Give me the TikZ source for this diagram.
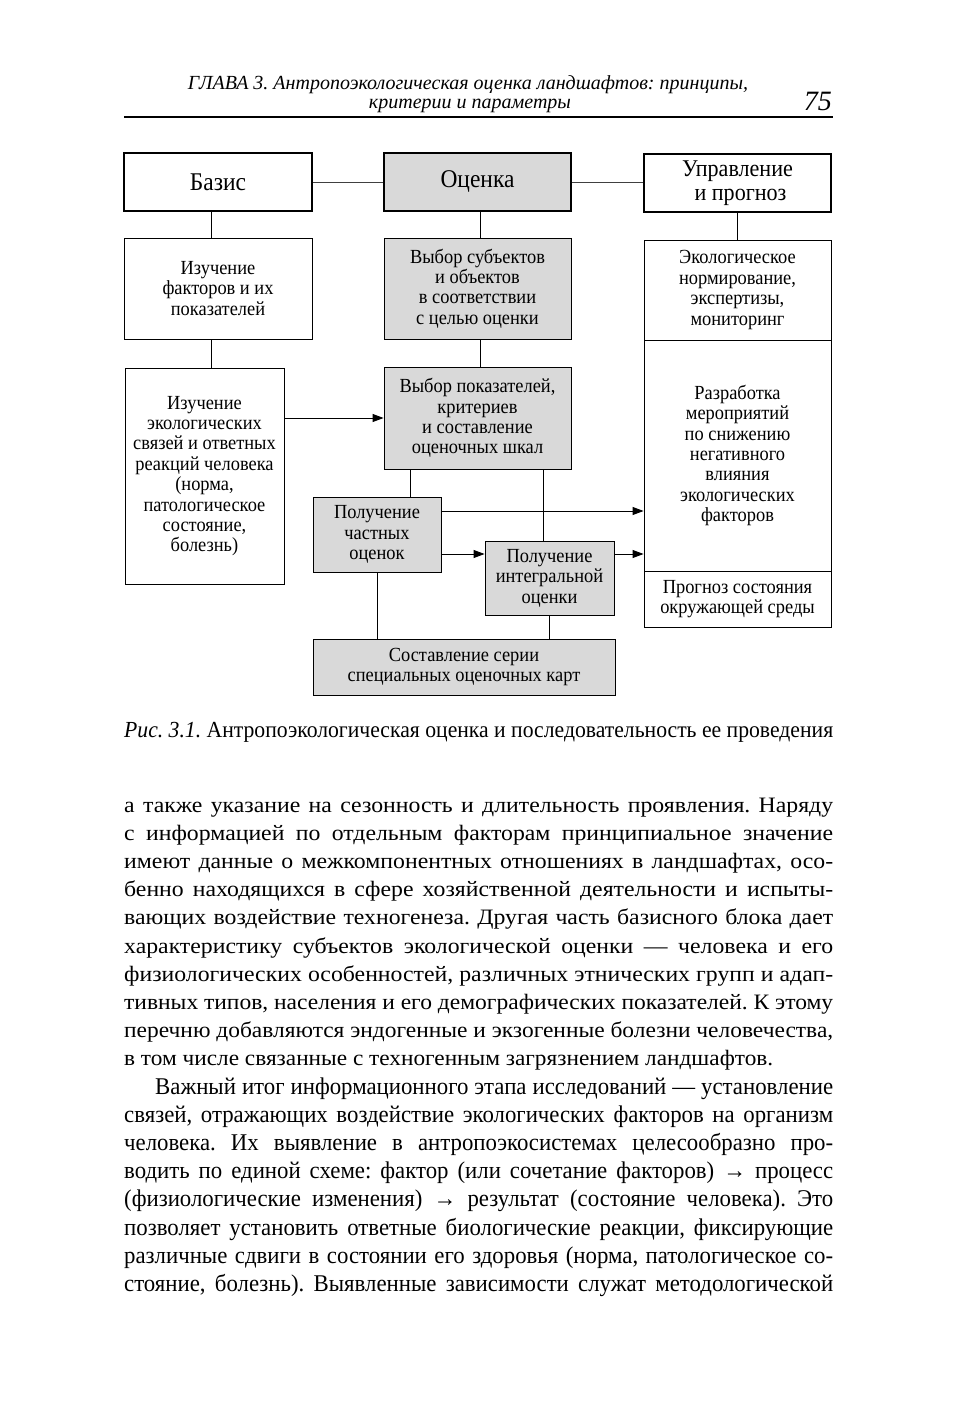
\documentclass[tikz,border=0pt]{standalone}
\usepackage{fontspec}
\usepackage{graphicx}
\setmainfont{Liberation Serif}
\newfontfamily\diagfont[FakeStretch=0.92]{Liberation Serif}
\newfontfamily\wideserif[FakeStretch=1.08]{Liberation Serif}
\newfontfamily\narrowserif[FakeStretch=0.95]{Liberation Serif}
\usetikzlibrary{arrows.meta}
\frenchspacing
\newsavebox\jbox
\newcommand\jline[2]{\sbox\jbox{#2}\ifdim\wd\jbox>#1\relax\resizebox{#1}{\height}{\usebox\jbox}\else\makebox[#1][s]{#2}\fi}
\begin{document}
\begin{tikzpicture}[x=1pt,y=-1pt,
 box/.style={draw, line width=0.9pt, inner sep=0pt, align=center, font=\diagfont\fontsize{20}{20.4}\selectfont},
 headbox/.style={draw, line width=2.2pt, inner sep=0pt, align=center, font=\diagfont\fontsize{25.5}{24}\selectfont},
 shade/.style={fill=black!15},
 conn/.style={line width=0.9pt},
 hconn/.style={line width=1pt, black!75},
 arr/.style={line width=0.9pt, -{Triangle[length=11pt,width=8pt]}},
 bodyA/.style={anchor=base west, inner sep=0pt, font=\wideserif\fontsize{22}{28}\selectfont},
 bodyB/.style={anchor=base west, inner sep=0pt, font=\narrowserif\fontsize{24}{28}\selectfont},
]
\fill[white] (0,0) rectangle (975,1418);
\useasboundingbox (0,0) rectangle (975,1418);

% running head
\node[anchor=base, inner sep=0pt, font=\itshape\fontsize{20}{20}\selectfont] (h1) at (468,90) {ГЛАВА 3. Антропоэкологическая оценка ландшафтов: принципы,};
\node[anchor=base, inner sep=0pt, font=\itshape\fontsize{20}{20}\selectfont] (h2) at (470,109) {критерии и параметры};
\node[anchor=base east, inner sep=0pt, font=\itshape\fontsize{28}{28}\selectfont] (pg) at (832,111) {75};
\draw[line width=1.3pt] (124,117) -- (833,117);

% header boxes
\node[headbox, minimum width=188pt, minimum height=58pt] (basis) at (218,182) {Базис};
\node[headbox, shade, minimum width=187pt, minimum height=58pt] (ocenka) at (477.5,182) {Оценка};
\node[headbox, minimum width=187pt, minimum height=58pt, font=\diagfont\fontsize{24}{23.5}\selectfont] (upr) at (737.5,183) {Управление\\[0.5pt]\hspace*{6pt}и прогноз};

% second row
\node[box, minimum width=188pt, minimum height=101pt] (izf) at (218,288.5) {Изучение\\факторов и их\\показателей};
\node[box, shade, minimum width=187pt, minimum height=101pt] (vsub) at (477.5,288.5) {Выбор субъектов\\и объектов\\в соответствии\\с целью оценки};
\node[box, minimum width=187pt, minimum height=100pt] (eko) at (737.5,290) {Экологическое\\нормирование,\\экспертизы,\\мониторинг};
\node[box, minimum width=187pt, minimum height=231pt] (razr) at (737.5,455.5) {Разработка\\мероприятий\\по снижению\\негативного\\влияния\\экологических\\факторов};
\node[box, minimum width=187pt, minimum height=56pt] (progn) at (737.5,599) {Прогноз состояния\\окружающей среды};

\node[box, minimum width=159pt, minimum height=216pt] (izs) at (204.5,476) {Изучение\\экологических\\связей и ответных\\реакций человека\\(норма,\\патологическое\\состояние,\\болезнь)};
\node[box, shade, minimum width=187pt, minimum height=102pt] (vpok) at (477.5,418) {Выбор показателей,\\критериев\\и составление\\оценочных шкал};
\node[box, shade, minimum width=128pt, minimum height=75pt] (pch) at (377,534.5) {Получение\\частных\\оценок};
\node[box, shade, minimum width=129pt, minimum height=74pt] (pint) at (549.5,578) {Получение\\интегральной\\оценки};
\node[box, shade, minimum width=302pt, minimum height=56pt] (sost) at (464,667) {Составление серии\\специальных оценочных карт};

% helper coordinates
\coordinate (xa) at (211,0);
\coordinate (xb) at (480,0);
\coordinate (xc) at (410,0);
\coordinate (xd) at (543,0);
\coordinate (ya) at (0,511);
\coordinate (yb) at (0,554);

% connectors
\draw[hconn] (basis.east) -- (ocenka.west);
\draw[hconn] (ocenka.east) -- (ocenka.east -| upr.west);
\draw[conn] (basis.south -| xa) -- (izf.north -| xa);
\draw[conn] (izf.south -| xa) -- (izs.north -| xa);
\draw[conn] (ocenka.south -| xb) -- (vsub.north -| xb);
\draw[conn] (vsub.south -| xb) -- (vpok.north -| xb);
\draw[conn] (upr.south) -- (eko.north);
\draw[arr] (vpok.west -| izs.east) -- (vpok.west);
\draw[conn] (vpok.south -| xc) -- (pch.north -| xc);
\draw[conn] (vpok.south -| xd) -- (pint.north -| xd);
\draw[arr] (pch.east |- ya) -- (razr.west |- ya);
\draw[arr] (pch.east |- yb) -- (pint.west |- yb);
\draw[arr] (pint.east |- yb) -- (razr.west |- yb);
\draw[conn] (pch.south) -- (pch.south |- sost.north);
\draw[conn] (pint.south) -- (pint.south |- sost.north);

% caption
\node[anchor=base west, inner sep=0pt, font=\narrowserif\fontsize{23}{24}\selectfont] (cap) at (124,737) {\jline{709pt}{\textit{Рис. 3.1.} Антропоэкологическая оценка и последовательность ее проведения}};

% body text
\node[bodyA] (b1) at (124,812) {\jline{709pt}{а также указание на сезонность и длительность проявления. Наряду}};
\node[bodyA] (b2) at (124,840.2) {\jline{709pt}{с информацией по отдельным факторам принципиальное значение}};
\node[bodyA] (b3) at (124,868.4) {\jline{709pt}{имеют данные о межкомпонентных отношениях в ландшафтах, осо-}};
\node[bodyA] (b4) at (124,896.6) {\jline{709pt}{бенно находящихся в сфере хозяйственной деятельности и испыты-}};
\node[bodyA] (b5) at (124,924.8) {\jline{709pt}{вающих воздействие техногенеза. Другая часть базисного блока дает}};
\node[bodyA] (b6) at (124,953) {\jline{709pt}{характеристику субъектов экологической оценки — человека и его}};
\node[bodyA] (b7) at (124,981.2) {\jline{709pt}{физиологических особенностей, различных этнических групп и адап-}};
\node[bodyA] (b8) at (124,1009.4) {\jline{709pt}{тивных типов, населения и его демографических показателей. К этому}};
\node[bodyA] (b9) at (124,1037.6) {\jline{709pt}{перечню добавляются эндогенные и экзогенные болезни человечества,}};
\node[bodyA] (b10) at (124,1065.8) {\jline{649pt}{в том числе связанные с техногенным загрязнением ландшафтов.}};
\node[bodyB] (b11) at (155,1094) {\jline{678pt}{Важный итог информационного этапа исследований — установление}};
\node[bodyB] (b12) at (124,1122.2) {\jline{709pt}{связей, отражающих воздействие экологических факторов на организм}};
\node[bodyB] (b13) at (124,1150.4) {\jline{709pt}{человека. Их выявление в антропоэкосистемах целесообразно про-}};
\node[bodyB] (b14) at (124,1178.6) {\jline{709pt}{водить по единой схеме: фактор (или сочетание факторов) → процесс}};
\node[bodyB] (b15) at (124,1206.8) {\jline{709pt}{(физиологические изменения) → результат (состояние человека). Это}};
\node[bodyB] (b16) at (124,1235) {\jline{709pt}{позволяет установить ответные биологические реакции, фиксирующие}};
\node[bodyB] (b17) at (124,1263.2) {\jline{709pt}{различные сдвиги в состоянии его здоровья (норма, патологическое со-}};
\node[bodyB] (b18) at (124,1291.4) {\jline{709pt}{стояние, болезнь). Выявленные зависимости служат методологической}};
\end{tikzpicture}
\end{document}
